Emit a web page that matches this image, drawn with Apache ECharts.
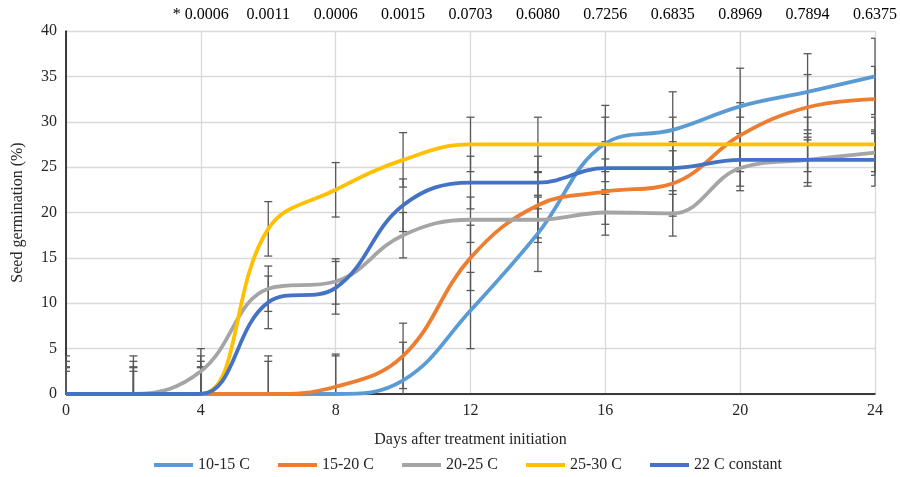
<!DOCTYPE html>
<html>
<head>
<meta charset="utf-8">
<script src="https://cdn.jsdelivr.net/npm/echarts@6/dist/echarts.min.js"></script>
<style>html,body{margin:0;padding:0;background:#fff}#c{width:900px;height:477px}</style>
</head>
<body>
<div id="c"></div>
<script>
var days = [0, 2, 4, 6, 8, 10, 12, 14, 16, 18, 20, 22, 24];
var seriesNames = ['10-15 C', '15-20 C', '20-25 C', '25-30 C', '22 C constant'];
var s1015 = [0, 0, 0, 0, 0, 1.5, 9.2, 17.7, 27.6, 29.1, 31.7, 33.3, 35.0];
var s1520 = [0, 0, 0, 0, 0.8, 4.2, 15.0, 20.8, 22.3, 23.2, 28.5, 31.6, 32.5];
var s2025 = [0, 0, 2.5, 11.6, 12.4, 17.5, 19.2, 19.2, 20.0, 19.9, 24.9, 25.8, 26.6];
var s2530 = [0, 0, 0, 18.2, 22.5, 25.8, 27.5, 27.5, 27.5, 27.5, 27.5, 27.5, 27.5];
var s22c  = [0, 0, 0, 10.1, 11.7, 20.8, 23.3, 23.3, 24.9, 24.9, 25.8, 25.8, 25.8];
var errors = [4.2, 3.6, 2.5, 3.0, 2.9];
var pDays = [4, 6, 8, 10, 12, 14, 16, 18, 20, 22, 24];
var pLabels = ['* 0.0006', '0.0011', '0.0006', '0.0015', '0.0703', '0.6080', '0.7256', '0.6835', '0.8969', '0.7894', '0.6375'];
var yTicks = [0, 5, 10, 15, 20, 25, 30, 35, 40];
var xTicks = [0, 4, 8, 12, 16, 20, 24];

var colors = ['#5B9BD5', '#ED7D31', '#A5A5A5', '#FFC000', '#4472C4'];
var allValues = [s1015, s1520, s2025, s2530, s22c];
var FONT = 'Liberation Serif';

var chart = echarts.init(document.getElementById('c'), null, {renderer: 'canvas'});

var series = [];
allValues.forEach(function (vals, i) {
  series.push({
    name: seriesNames[i] + ' err',
    type: 'custom',
    z: 1,
    silent: true,
    data: days.map(function (d, k) { return [d, vals[k], errors[i]]; }),
    encode: {x: 0, y: 1},
    renderItem: function (params, api) {
      var x = api.value(0), v = api.value(1), e = api.value(2);
      var lo = Math.max(0, v - e), hi = v + e;
      var pHi = api.coord([x, hi]);
      var pLo = api.coord([x, lo]);
      var left = api.coord([0, 0])[0];
      var right = api.coord([24, 0])[0];
      var cw = 4;
      var ch = [];
      var st = {stroke: '#595959', lineWidth: 1.3};
      ch.push({type: 'line', shape: {x1: pHi[0], y1: pHi[1], x2: pLo[0], y2: pLo[1]}, style: st});
      ch.push({type: 'line', shape: {x1: Math.max(left, pHi[0] - cw), y1: pHi[1], x2: Math.min(right, pHi[0] + cw), y2: pHi[1]}, style: st});
      if (v - e >= 0) {
        ch.push({type: 'line', shape: {x1: Math.max(left, pLo[0] - cw), y1: pLo[1], x2: Math.min(right, pLo[0] + cw), y2: pLo[1]}, style: st});
      }
      return {type: 'group', children: ch};
    }
  });
});
allValues.forEach(function (vals, i) {
  series.push({
    name: seriesNames[i],
    type: 'line',
    z: 2 + i,
    smooth: 0.4,
    symbol: 'none',
    clip: true,
    lineStyle: {color: colors[i], width: 3.8},
    itemStyle: {color: colors[i]},
    data: days.map(function (d, k) { return [d, vals[k]]; })
  });
});

chart.setOption({
  animation: false,
  backgroundColor: '#fff',
  color: colors,
  grid: {left: 66, right: 22, top: 31, bottom: 83, containLabel: false},
  legend: {
    data: seriesNames.map(function (n, i) { return {name: n, icon: 'rect'}; }),
    bottom: 4,
    padding: 0,
    left: 154,
    itemWidth: 39,
    itemHeight: 4,
    itemGap: 28,
    textStyle: {fontFamily: FONT, fontSize: 16, color: '#262626'}
  },
  xAxis: [{
    type: 'value',
    min: 0, max: 24, interval: 4,
    name: 'Days after treatment initiation',
    nameLocation: 'middle',
    nameGap: 38,
    nameTextStyle: {fontFamily: FONT, fontSize: 16, color: '#262626'},
    axisLine: {show: true, onZero: false, lineStyle: {color: '#000', width: 1.5}},
    axisTick: {show: false},
    axisLabel: {fontFamily: FONT, fontSize: 16, color: '#262626', margin: 9,
      formatter: function (v) { return xTicks.indexOf(v) >= 0 ? String(v) : ''; }},
    splitLine: {show: true, lineStyle: {color: '#D9D9D9', width: 1.3}}
  }, {
    type: 'value',
    position: 'top',
    min: 0, max: 24, interval: 2,
    axisLine: {show: false},
    axisTick: {show: false},
    splitLine: {show: false},
    axisLabel: {fontFamily: FONT, fontSize: 16, color: '#000', margin: 8,
      formatter: function (v) { var k = pDays.indexOf(v); return k >= 0 ? pLabels[k] : ''; }}
  }],
  yAxis: {
    type: 'value',
    min: 0, max: 40, interval: 5,
    name: 'Seed germination (%)',
    nameLocation: 'middle',
    nameGap: 40,
    nameTextStyle: {fontFamily: FONT, fontSize: 16, color: '#262626'},
    axisLine: {show: true, lineStyle: {color: '#000', width: 1.5}},
    axisTick: {show: false},
    axisLabel: {fontFamily: FONT, fontSize: 16, color: '#262626', margin: 9,
      formatter: function (v) { return yTicks.indexOf(v) >= 0 ? String(v) : ''; }},
    splitLine: {show: true, lineStyle: {color: '#D9D9D9', width: 1.3}}
  },
  series: series
});
</script>
</body>
</html>
